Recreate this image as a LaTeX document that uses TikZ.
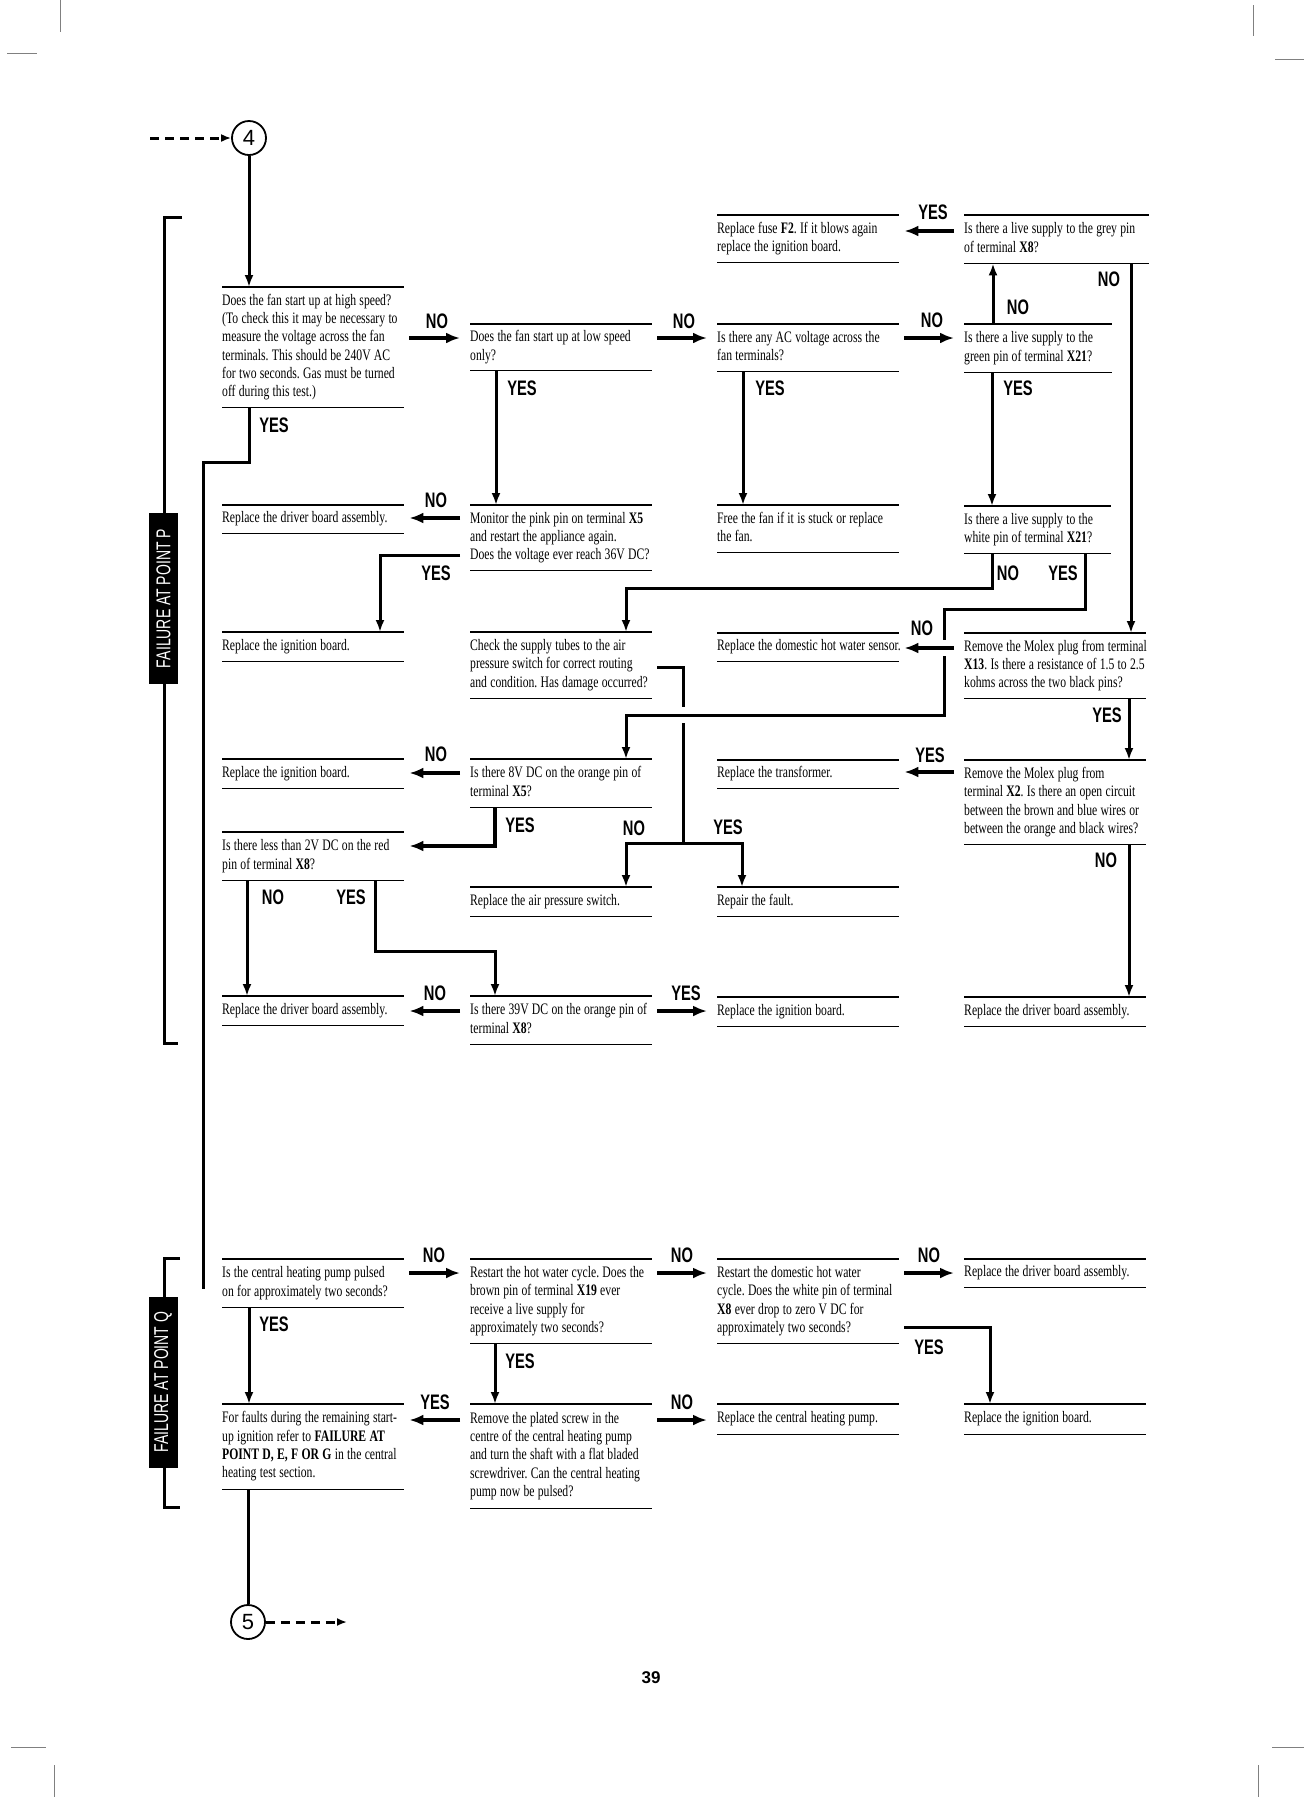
\documentclass[tikz,border=0pt]{standalone}
\usepackage{fontspec}
\setmainfont{Liberation Serif}[FakeStretch=0.73]
\newfontfamily\labfont{Liberation Sans}[FakeStretch=0.7]
\newfontfamily\numfont{Liberation Sans}
\usetikzlibrary{arrows.meta}
\newcommand\bxt[1]{\noindent\frenchspacing\spaceskip=3.3pt plus 1pt minus 0.5pt\relax\begin{tabular}{@{}l@{}}#1\end{tabular}}
\frenchspacing
\begin{document}
\begin{tikzpicture}[x=1pt,y=-1pt]
\tikzset{
 box/.style={anchor=north west, inner xsep=0pt, inner ysep=0pt, align=left, font=\fontsize{16}{18.3}\selectfont, text width=182pt},
 boxrule/.style={line width=1.4pt},
 conn/.style={line width=3pt},
 tipd/.style={-{Latex[length=12pt,width=9pt]}},
 harr/.style={line width=3.6pt, -{Latex[length=14pt,width=11pt]}},
 yn/.style={font=\labfont\bfseries\fontsize{21}{21}\selectfont, inner sep=0pt},
 rgt/.style={shorten <=5pt, shorten >=10pt},
 lft/.style={shorten <=10pt, shorten >=5pt},
 ptag/.style={fill=black, text=white, rotate=90, inner sep=0pt, minimum width=171pt, minimum height=29pt, font=\labfont\fontsize{20}{20}\selectfont},
 brk/.style={line width=3pt},
 circ/.style={circle, draw, line width=1.8pt, minimum size=34pt, inner sep=0pt, font=\numfont\fontsize{22}{22}\selectfont},
 dasharr/.style={line width=3pt, dash pattern=on 9pt off 6pt, -{Latex[length=10pt,width=8pt]}},
 crop/.style={gray, line width=1pt}
}
\useasboundingbox (0,0) rectangle (1304,1797);
\fill[white] (0,0) rectangle (1304,1797);

% crop marks
\draw[crop] (60,0) -- (60,32) (7,53) -- (37,53) (1253,5) -- (1253,36) (1275,59) -- (1304,59)
 (54,1765) -- (54,1797) (11,1747) -- (46,1747) (1258,1765) -- (1258,1797) (1272,1747) -- (1304,1747);

% connector circles
\node[circ] (c4) at (249,138) {4};
\coordinate (in4) at (150,138);
\node[circ] (c5) at (248,1622) {5};
\coordinate (out5) at (347,1622);
\coordinate (qend) at (203,1289);

% boxes, section P
\node[box, minimum height=47pt] (f2) at (717,215) {\bxt{Replace fuse \textbf{F2}. If it blows again\\replace the ignition board.}};
\node[box, minimum height=48pt, text width=185pt] (grey) at (964,215) {\bxt{Is there a live supply to the grey pin\\of terminal \textbf{X8}?}};
\node[box, minimum height=120pt] (b1) at (222,287) {\bxt{Does the fan start up at high speed?\\(To check this it may be necessary to\\measure the voltage across the fan\\terminals. This should be 240V AC\\for two seconds. Gas must be turned\\off during this test.)}};
\node[box, minimum height=46pt] (b2) at (470,324) {\bxt{Does the fan start up at low speed\\only?}};
\node[box, minimum height=47pt] (b3) at (717,324) {\bxt{Is there any AC voltage across the\\fan terminals?}};
\node[box, minimum height=48pt, text width=148pt] (green) at (964,324) {\bxt{Is there a live supply to the\\green pin of terminal \textbf{X21}?}};
\node[box, minimum height=28pt] (drv1) at (222,505) {\bxt{Replace the driver board assembly.}};
\node[box, minimum height=65pt] (pink) at (470,505) {\bxt{Monitor the pink pin on terminal \textbf{X5}\\and restart the appliance again.\\Does the voltage ever reach 36V DC?}};
\node[box, minimum height=47pt] (free) at (717,505) {\bxt{Free the fan if it is stuck or replace\\the fan.}};
\node[box, minimum height=47pt, text width=147pt] (white) at (964,506) {\bxt{Is there a live supply to the\\white pin of terminal \textbf{X21}?}};
\node[box, minimum height=29pt] (ign1) at (222,632) {\bxt{Replace the ignition board.}};
\node[box, minimum height=66pt] (tubes) at (470,632) {\bxt{Check the supply tubes to the air\\pressure switch for correct routing\\and condition. Has damage occurred?}};
\node[box, minimum height=28pt] (dhws) at (717,633) {\bxt{Replace the domestic hot water sensor.}};
\node[box, minimum height=65pt] (x13) at (964,633) {\bxt{Remove the Molex plug from terminal\\\textbf{X13}. Is there a resistance of 1.5 to 2.5\\kohms across the two black pins?}};
\node[box, minimum height=29pt] (ign2) at (222,759) {\bxt{Replace the ignition board.}};
\node[box, minimum height=48pt] (v8) at (470,759) {\bxt{Is there 8V DC on the orange pin of\\terminal \textbf{X5}?}};
\node[box, minimum height=28pt] (trans) at (717,760) {\bxt{Replace the transformer.}};
\node[box, minimum height=84pt] (x2) at (964,760) {\bxt{Remove the Molex plug from\\terminal \textbf{X2}. Is there an open circuit\\between the brown and blue wires or\\between the orange and black wires?}};
\node[box, minimum height=48pt] (v2) at (222,832) {\bxt{Is there less than 2V DC on the red\\pin of terminal \textbf{X8}?}};
\node[box, minimum height=29pt] (aps) at (470,887) {\bxt{Replace the air pressure switch.}};
\node[box, minimum height=29pt] (fault) at (717,887) {\bxt{Repair the fault.}};
\node[box, minimum height=29pt] (drv2) at (222,996) {\bxt{Replace the driver board assembly.}};
\node[box, minimum height=48pt] (v39) at (470,996) {\bxt{Is there 39V DC on the orange pin of\\terminal \textbf{X8}?}};
\node[box, minimum height=29pt] (ign3) at (717,997) {\bxt{Replace the ignition board.}};
\node[box, minimum height=29pt] (drv3) at (964,997) {\bxt{Replace the driver board assembly.}};

% boxes, section Q
\node[box, minimum height=48pt] (q1) at (222,1259) {\bxt{Is the central heating pump pulsed\\on for approximately two seconds?}};
\node[box, minimum height=84pt] (q2) at (470,1259) {\bxt{Restart the hot water cycle. Does the\\brown pin of terminal \textbf{X19} ever\\receive a live supply for\\approximately two seconds?}};
\node[box, minimum height=84pt] (q3) at (717,1259) {\bxt{Restart the domestic hot water\\cycle. Does the white pin of terminal\\\textbf{X8} ever drop to zero V DC for\\approximately two seconds?}};
\node[box, minimum height=28pt] (q4) at (964,1259) {\bxt{Replace the driver board assembly.}};
\node[box, minimum height=85pt] (q5) at (222,1404) {\bxt{For faults during the remaining start-\\up ignition refer to \textbf{FAILURE AT}\\\textbf{POINT D, E, F OR G} in the central\\heating test section.}};
\node[box, minimum height=104pt] (q6) at (470,1404) {\bxt{Remove the plated screw in the\\centre of the central heating pump\\and turn the shaft with a flat bladed\\screwdriver. Can the central heating\\pump now be pulsed?}};
\node[box, minimum height=30pt] (q7) at (717,1404) {\bxt{Replace the central heating pump.}};
\node[box, minimum height=30pt] (q8) at (964,1404) {\bxt{Replace the ignition board.}};

\foreach \n in {f2,grey,b1,b2,b3,green,drv1,pink,free,white,ign1,tubes,dhws,x13,ign2,v8,trans,x2,v2,aps,fault,drv2,v39,ign3,drv3,q1,q2,q3,q4,q5,q6,q7,q8}
  \draw[boxrule] (\n.north west) -- (\n.north east) (\n.south west) -- (\n.south east);

% section brackets
\draw[brk] (182,217) -- (164,217) -- (164,1043) -- (178,1043);
\node[ptag] (tp) at (163.5,598.5) {FAILURE AT POINT P};
\draw[brk] (180,1258) -- (164,1258) -- (164,1507) -- (180,1507);
\node[ptag] (tq) at (163,1382) {FAILURE AT POINT Q};

% connectors, section P
\draw[dasharr] (in4) -- (c4.west);
\draw[conn,tipd] (c4.south) -- (c4.south |- b1.north);
\draw[harr,rgt] (b1.east |- 0,338) -- (b2.west |- 0,338);
\node[yn] (l1) at (437,321) {NO};
\draw[harr,rgt] (b2.east |- 0,338) -- (b3.west |- 0,338);
\node[yn] (l2) at (684,321) {NO};
\draw[harr,rgt] (b3.east |- 0,338) -- (green.west |- 0,338);
\node[yn] (l3) at (932,320) {NO};
\draw[conn,tipd] (green.north -| 993,0) -- (grey.south -| 993,0);
\node[yn] (l4) at (1018,307) {NO};
\draw[harr,lft] (grey.west |- 0,231) -- (f2.east |- 0,231);
\node[yn] (l5) at (933,212) {YES};
\draw[conn,tipd] (grey.south -| 1131,0) -- (x13.north -| 1131,0);
\node[yn] (l6) at (1109,279) {NO};
\draw[conn] (b1.south -| 249,0) -- (249,462) -| (qend);
\node[yn] (l7) at (274,425) {YES};
\draw[conn,tipd] (b2.south -| 496,0) -- (pink.north -| 496,0);
\node[yn] (l8) at (522,388) {YES};
\draw[conn,tipd] (b3.south -| 743,0) -- (free.north -| 743,0);
\node[yn] (l9) at (770,388) {YES};
\draw[conn,tipd] (green.south -| 992,0) -- (white.north -| 992,0);
\node[yn] (l10) at (1018,388) {YES};
\draw[harr,lft] (pink.west |- 0,518) -- (drv1.east |- 0,518);
\node[yn] (l11) at (436,500) {NO};
\draw[conn,tipd,shorten <=10pt] (pink.west |- 0,555) -| (ign1.north -| 380,0);
\node[yn] (l12) at (436,573) {YES};
\draw[conn,tipd] (white.south -| 992,0) -- (992,588) -| (tubes.north -| 626,0);
\node[yn] (l13) at (1008,573) {NO};
\draw[conn] (white.south -| 1085,0) |- (944,609) -- (944,640);
\draw[conn,tipd] (944,656) |- (626,715) -- (v8.north -| 626,0);
\node[yn] (l14) at (1063,573) {YES};
\draw[harr,lft] (x13.west |- 0,648) -- (dhws.east |- 0,648);
\node[yn] (l15) at (922,628) {NO};
\draw[conn,shorten <=5pt] (tubes.east |- 0,667) -- (683,667) -- (683,707);
\draw[conn] (683,723) -- (683,843);
\draw[conn,tipd] (683,843) -| (aps.north -| 626,0);
\draw[conn,tipd] (683,843) -| (fault.north -| 742,0);
\node[yn] (l16) at (634,828) {NO};
\node[yn] (l17) at (728,827) {YES};
\draw[conn,tipd] (x13.south -| 1129,0) -- (x2.north -| 1129,0);
\node[yn] (l18) at (1107,715) {YES};
\draw[harr,lft] (x2.west |- 0,772) -- (trans.east |- 0,772);
\node[yn] (l19) at (930,755) {YES};
\draw[conn,tipd] (x2.south -| 1129,0) -- (drv3.north -| 1129,0);
\node[yn] (l20) at (1106,860) {NO};
\draw[harr,lft] (v8.west |- 0,773) -- (ign2.east |- 0,773);
\node[yn] (l21) at (436,754) {NO};
\draw[harr,shorten >=5pt] (v8.south -| 495,0) |- (v2.east |- 0,846);
\node[yn] (l22) at (520,825) {YES};
\draw[conn,tipd] (v2.south -| 247,0) -- (drv2.north -| 247,0);
\node[yn] (l23) at (273,897) {NO};
\draw[conn,tipd] (v2.south -| 375,0) |- (495,951) -- (v39.north -| 495,0);
\node[yn] (l24) at (351,897) {YES};
\draw[harr,lft] (v39.west |- 0,1011) -- (drv2.east |- 0,1011);
\node[yn] (l25) at (435,993) {NO};
\draw[harr,rgt] (v39.east |- 0,1011) -- (ign3.west |- 0,1011);
\node[yn] (l26) at (686,993) {YES};

% connectors, section Q
\draw[harr,rgt] (q1.east |- 0,1273) -- (q2.west |- 0,1273);
\node[yn] (l27) at (434,1255) {NO};
\draw[harr,rgt] (q2.east |- 0,1273) -- (q3.west |- 0,1273);
\node[yn] (l28) at (682,1255) {NO};
\draw[harr,rgt] (q3.east |- 0,1273) -- (q4.west |- 0,1273);
\node[yn] (l29) at (929,1255) {NO};
\draw[conn,tipd] (q1.south -| 249,0) -- (q5.north -| 249,0);
\node[yn] (l30) at (274,1324) {YES};
\draw[conn,tipd] (q2.south -| 495,0) -- (q6.north -| 495,0);
\node[yn] (l31) at (520,1361) {YES};
\draw[harr,lft] (q6.west |- 0,1420) -- (q5.east |- 0,1420);
\node[yn] (l32) at (435,1402) {YES};
\draw[harr,rgt] (q6.east |- 0,1420) -- (q7.west |- 0,1420);
\node[yn] (l33) at (682,1402) {NO};
\draw[conn,tipd,shorten <=5pt] (q3.east |- 0,1327) -| (q8.north -| 990,0);
\node[yn] (l34) at (929,1347) {YES};
\draw[conn] (q5.south -| c5.north) -- (c5.north);
\draw[dasharr] (c5.east) -- (out5);

\node[font=\numfont\bfseries\fontsize{17}{17}\selectfont, inner sep=0pt] (pg) at (651,1678) {39};
\end{tikzpicture}
\end{document}
